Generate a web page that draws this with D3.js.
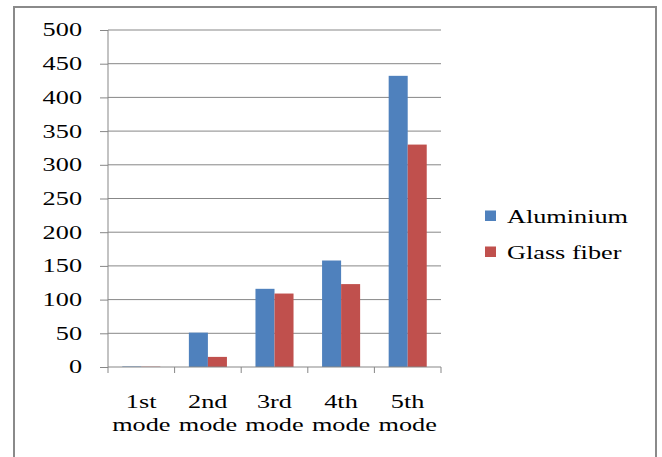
<!DOCTYPE html>
<html>
<head>
<meta charset="utf-8">
<script src="https://cdn.jsdelivr.net/npm/d3@7"></script>
<style>
  html, body { margin: 0; padding: 0; background: #fff; }
  svg { display: block; }
  .lbl { font-family: "Liberation Serif", "Times New Roman", serif; font-size: 18.5px; fill: #000; transform-box: fill-box; }
  .wide-end { transform: scaleX(1.42); transform-origin: 100% 50%; }
  .wide-mid { transform: scaleX(1.42); transform-origin: 50% 50%; }
  .wide-start { transform: scaleX(1.42); transform-origin: 0% 50%; }
</style>
</head>
<body>
<svg id="chart" width="662" height="457"></svg>
<script>
// Natural frequencies per vibration mode, by material
const modes = ["1st mode", "2nd mode", "3rd mode", "4th mode", "5th mode"];
const seriesNames = ["Aluminium", "Glass fiber"];
const aluminium = [0.8, 51, 116, 158, 432];
const glassFiber = [0.5, 15, 109, 123, 330];
const yTicks = [0, 50, 100, 150, 200, 250, 300, 350, 400, 450, 500];
const colors = ["#4F81BD", "#C0504D"];

const svg = d3.select("#chart");
const gridColor = "#878787";

// outer chart frame
svg.append("rect")
  .attr("x", 14).attr("y", 7)
  .attr("width", 642).attr("height", 470)
  .attr("fill", "none")
  .attr("stroke", "#8a8a8a")
  .attr("stroke-width", 2);

const plot = { left: 108, right: 441, top: 30, bottom: 367 };

const x0 = d3.scaleBand().domain(modes).range([plot.left, plot.right]).padding(0);
const x1 = d3.scaleBand().domain(seriesNames).range([0, x0.bandwidth()])
  .paddingInner(0).paddingOuter(0.75);
const y = d3.scaleLinear().domain([0, 500]).range([plot.bottom, plot.top]);

// horizontal gridlines
svg.append("g").selectAll("line").data(yTicks.filter(d => d > 0)).join("line")
  .attr("x1", plot.left).attr("x2", plot.right)
  .attr("y1", d => y(d)).attr("y2", d => y(d))
  .attr("stroke", gridColor).attr("stroke-width", 1);

// bars
const rows = modes.map((m, i) => ({ mode: m, values: [aluminium[i], glassFiber[i]] }));
const groups = svg.append("g").selectAll("g").data(rows).join("g")
  .attr("transform", d => `translate(${x0(d.mode)},0)`);
groups.selectAll("rect")
  .data(d => d.values.map((v, k) => ({ name: seriesNames[k], value: v, k })))
  .join("rect")
  .attr("x", d => x1(d.name))
  .attr("width", x1.bandwidth())
  .attr("y", d => y(d.value))
  .attr("height", d => y(0) - y(d.value))
  .attr("fill", d => colors[d.k]);

// y axis
const yAxis = svg.append("g")
  .attr("transform", `translate(${plot.left},0)`)
  .call(d3.axisLeft(y).tickValues(yTicks).tickSize(8).tickPadding(18).tickFormat(d3.format("d")));
yAxis.select(".domain").attr("stroke", gridColor).attr("d", `M0,${plot.top}V${plot.bottom}`);
yAxis.selectAll(".tick line").attr("stroke", gridColor);
yAxis.selectAll(".tick text")
  .attr("class", "lbl wide-end")
  .attr("font-family", null).attr("font-size", null);

// x axis with ticks at category boundaries
const xAxisG = svg.append("g");
xAxisG.append("line")
  .attr("x1", plot.left).attr("x2", plot.right)
  .attr("y1", y(0)).attr("y2", y(0))
  .attr("stroke", gridColor).attr("stroke-width", 1);
const bounds = modes.map(m => x0(m)).concat([plot.right]);
xAxisG.selectAll("line.tk").data(bounds).join("line")
  .attr("class", "tk")
  .attr("x1", d => d).attr("x2", d => d)
  .attr("y1", y(0)).attr("y2", y(0) + 6)
  .attr("stroke", gridColor).attr("stroke-width", 1);

// two-line category labels
const catLabels = xAxisG.selectAll("g.cat").data(modes).join("g").attr("class", "cat");
catLabels.each(function (m) {
  const parts = m.split(" ");
  const cx = x0(m) + x0.bandwidth() / 2;
  parts.forEach((p, i) => {
    d3.select(this).append("text")
      .attr("class", "lbl wide-mid")
      .attr("x", cx)
      .attr("y", 408 + i * 23.5)
      .attr("text-anchor", "middle")
      .text(p);
  });
});

// legend
const legend = svg.append("g");
const legendY = [216, 252];
seriesNames.forEach((name, i) => {
  legend.append("rect")
    .attr("x", 485).attr("y", legendY[i] - 5.5)
    .attr("width", 11).attr("height", 10.5)
    .attr("fill", colors[i]);
  legend.append("text")
    .attr("class", "lbl wide-start")
    .attr("x", 507).attr("y", legendY[i] + 7.3)
    .text(name);
});
</script>
</body>
</html>
